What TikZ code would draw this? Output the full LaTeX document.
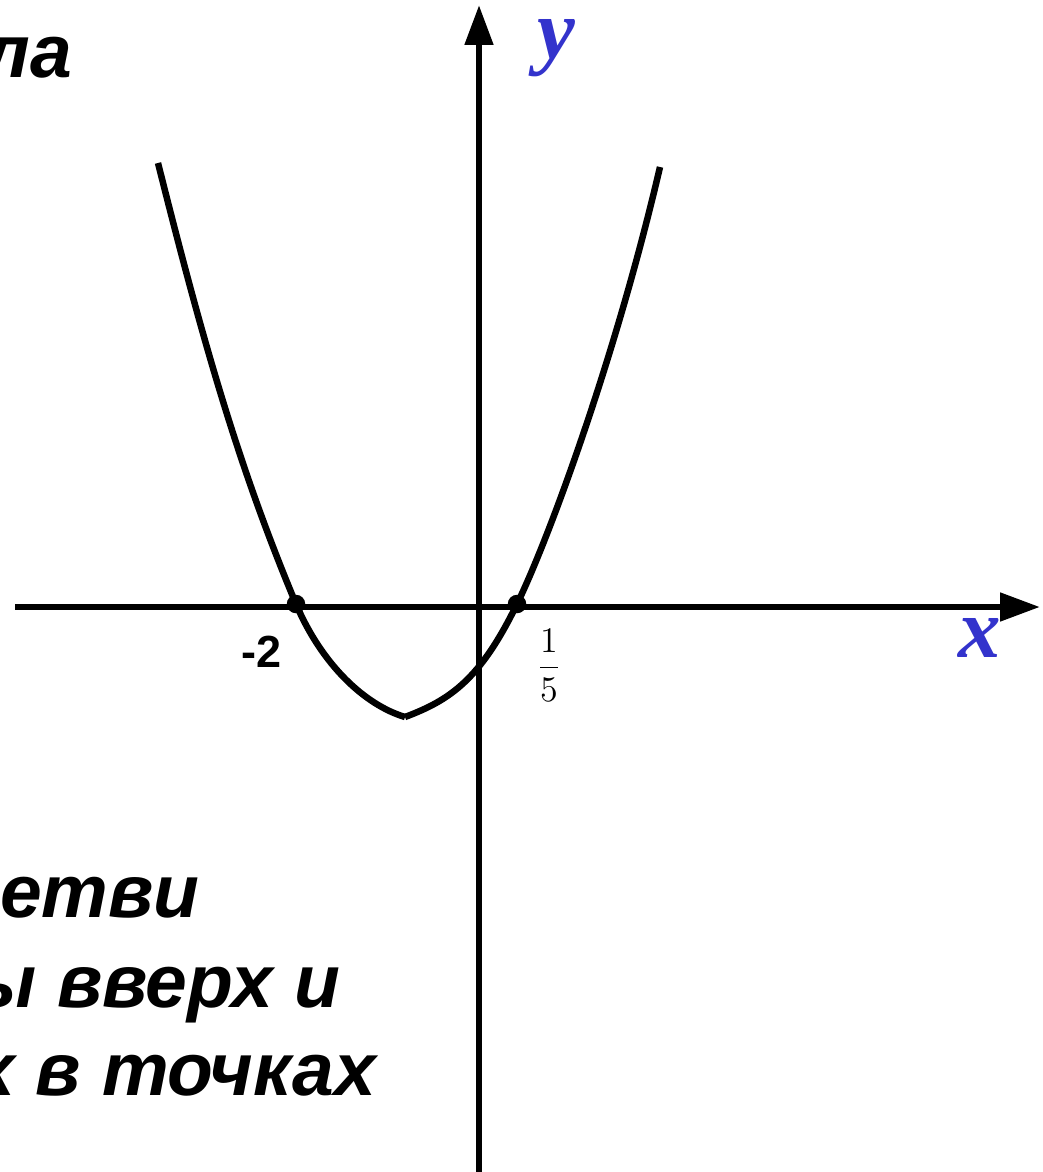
\documentclass[tikz,border=0pt]{standalone}
\usepackage{amsmath}
\usepackage{fontspec}
\setmainfont{Liberation Sans}
\newfontfamily\lblfont{Liberation Serif}
\usetikzlibrary{arrows.meta}
\definecolor{axisBlue}{HTML}{3333CC}

\begin{document}
\begin{tikzpicture}[x=0.4pt,y=-0.4pt,
    every node/.style={inner sep=0pt,outer sep=0pt},
    axis/.style={line width=2.6pt,-{Triangle[length=16pt,width=11pt]}},
    graph/.style={line width=2.6pt,line join=round},
    root/.style={circle,fill=black,minimum size=7.4pt},
    txt/.style={font=\fontsize{30}{36}\selectfont\bfseries\itshape},
    axlbl/.style={text=axisBlue,font=\fontsize{34}{34}\selectfont\lblfont\bfseries\itshape}]
  \useasboundingbox (0,0) rectangle (1042,1172);

  % axes
  \coordinate (xs) at (15,607);
  \coordinate (xe) at (1040,607);
  \coordinate (ys) at (479,1172);
  \coordinate (ye) at (479,5);
  \draw[axis] (xs) -- (xe);
  \draw[axis] (ys) -- (ye);
  \node[axlbl] (xl) at (980,638) {x};
  \node[axlbl] (yl) at (556,48) {y};

  % parabola
  \coordinate (lt) at (158,163);
  \coordinate (rt) at (660,167);
  \coordinate (vx) at (405,717);
  \node[root] (r1) at (296,604) {};
  \node[root] (r2) at (517,604) {};
  \draw[graph] (lt) .. controls (205,350) and (240,470) .. (r1.center)
    .. controls (322,665) and (365,705) .. (vx);
  \draw[graph] (vx) .. controls (450,700) and (480,680) .. (r2.center)
    .. controls (547,543) and (615,360) .. (rt);

  % root labels
  \node[font=\fontsize{18}{18}\selectfont\bfseries] (m2) at (262,652) {-2};
  \node[font=\fontsize{14}{14}\selectfont] (f15) at (549,665) {$\dfrac{1}{5}$};

  % text
  \node[txt,anchor=base east] (t0) at (72,78) {ла};
  \node[txt,anchor=base west] (t1) at (0,917) {етви};
  \node[txt,anchor=base east] (t2) at (340,1007) {ы вверх и};
  \node[txt,anchor=base east] (t3) at (376,1095) {х в точках};
\end{tikzpicture}
\end{document}
